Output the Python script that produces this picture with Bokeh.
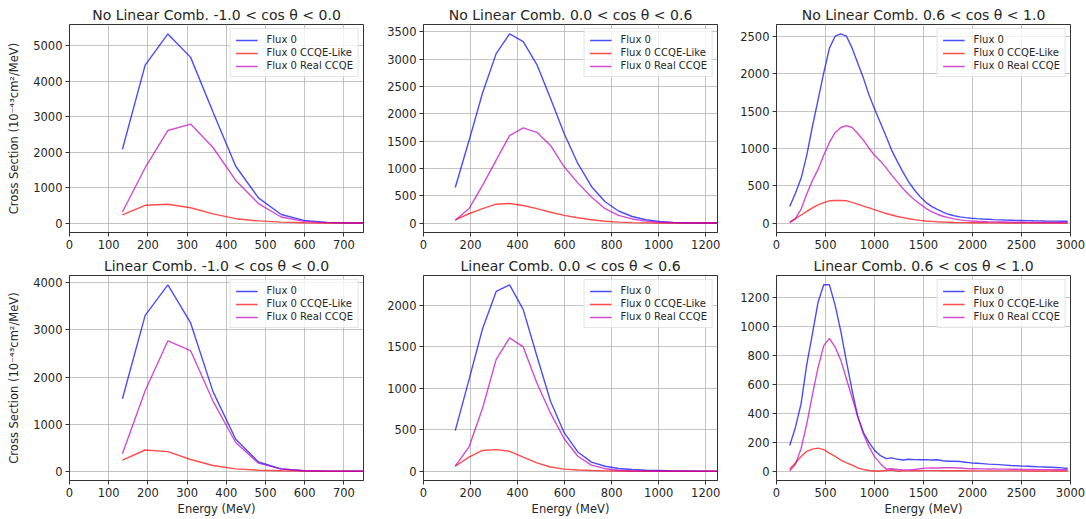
from bokeh.plotting import figure
from bokeh.models import Range1d, FixedTicker
from bokeh.layouts import column, row
from bokeh.embed import file_html
from bokeh.resources import INLINE

# ---------------- data ----------------
energy = [135, 193, 251, 309, 366, 424, 482, 540, 598, 656, 714, 772, 829, 887, 945,
          1003, 1061, 1119, 1177, 1235, 1292, 1350, 1408, 1466, 1524, 1582, 1640, 1698,
          1755, 1813, 1871, 1929, 1987, 2045, 2103, 2161, 2218, 2276, 2334, 2392, 2450,
          2508, 2566, 2624, 2681, 2739, 2797, 2855, 2913, 2971]

series_labels = ["Flux 0", "Flux 0 CCQE-Like", "Flux 0 Real CCQE"]

titles = [
    "No Linear Comb. -1.0 < cos \u03b8 < 0.0",
    "No Linear Comb. 0.0 < cos \u03b8 < 0.6",
    "No Linear Comb. 0.6 < cos \u03b8 < 1.0",
    "Linear Comb. -1.0 < cos \u03b8 < 0.0",
    "Linear Comb. 0.0 < cos \u03b8 < 0.6",
    "Linear Comb. 0.6 < cos \u03b8 < 1.0",
]

# panel 1: No Linear Comb. -1.0 < cos < 0.0
nolc1_flux = [2080, 4450, 5330, 4670, 3130, 1600, 710, 240, 75, 20, 5, 0, 0, 0, 0, 0]
nolc1_like = [230, 500, 530, 430, 260, 123, 60, 25, 10, 3, 0, 0, 0, 0, 0, 0]
nolc1_real = [310, 1560, 2610, 2790, 2130, 1200, 550, 170, 47, 12, 3, 0, 0, 0, 0, 0]

# panel 2: No Linear Comb. 0.0 < cos < 0.6
nolc2_flux = [650, 1500, 2380, 3100, 3460, 3320, 2900, 2280, 1640, 1090, 670, 390, 220, 120,
              60, 30, 12, 5, 2, 0, 0, 0, 0, 0]
nolc2_like = [60, 170, 265, 345, 357, 320, 265, 198, 140, 98, 60, 32, 16, 8, 4, 2, 0, 0, 0,
              0, 0, 0, 0, 0]
nolc2_real = [50, 260, 690, 1150, 1600, 1740, 1660, 1420, 1030, 735, 478, 263, 141, 75, 35,
              15, 5, 2, 0, 0, 0, 0, 0, 0]

# panel 3: No Linear Comb. 0.6 < cos < 1.0
nolc3_flux = [224, 400, 600, 910, 1290, 1650, 2010, 2340, 2500, 2530, 2500, 2340, 2140, 1940,
              1710, 1520, 1340, 1160, 970, 820, 680, 550, 445, 355, 280, 225, 185, 150, 120,
              100, 85, 76, 68, 62, 57, 53, 49, 46, 43, 41, 39, 37, 35, 33, 32, 30, 29, 28,
              27, 26]
nolc3_like = [18, 60, 110, 160, 205, 245, 275, 300, 305, 305, 300, 280, 255, 230, 205, 180,
              155, 130, 110, 90, 75, 60, 48, 38, 30, 25, 20, 16, 13, 10, 9, 8, 7, 6, 6, 5, 5,
              5, 4, 4, 4, 4, 4, 3, 3, 3, 3, 3, 3, 3]
nolc3_real = [9, 63, 190, 390, 570, 720, 910, 1080, 1210, 1280, 1306, 1280, 1200, 1110, 1000,
              905, 830, 740, 640, 550, 460, 380, 315, 255, 200, 157, 121, 94, 76, 58, 45, 36,
              31, 27, 24, 21, 19, 17, 16, 15, 14, 13, 12, 12, 11, 11, 10, 10, 10, 10]

# panel 4: Linear Comb. -1.0 < cos < 0.0
lc1_flux = [1540, 3310, 3960, 3150, 1690, 680, 195, 50, 10, 2, 0, 0, 0, 0, 0, 0]
lc1_like = [235, 450, 415, 248, 120, 49, 21, 8, 2, 0, 0, 0, 0, 0, 0, 0]
lc1_real = [370, 1710, 2770, 2560, 1490, 610, 170, 45, 10, 2, 0, 0, 0, 0, 0, 0]

# panel 5: Linear Comb. 0.0 < cos < 0.6
lc2_flux = [490, 1100, 1720, 2170, 2250, 1950, 1390, 845, 465, 232, 110, 60, 32, 20, 12, 8,
            4, 2, 0, 0, 0, 0, 0, 0]
lc2_like = [60, 170, 250, 260, 240, 170, 100, 50, 25, 15, 8, 4, 2, 0, 0, 0, 0, 0, 0, 0, 0,
            0, 0, 0]
lc2_real = [60, 290, 760, 1350, 1610, 1500, 1065, 700, 392, 180, 73, 30, 12, 6, 2, 0, 0, 0,
            0, 0, 0, 0, 0, 0]

# panel 6: Linear Comb. 0.6 < cos < 1.0
lc3_flux = [180, 305, 470, 740, 950, 1170, 1290, 1290, 1150, 970, 760, 560, 380, 270, 200,
            145, 110, 90, 95, 85, 80, 85, 83, 82, 83, 80, 82, 75, 72, 72, 70, 65, 60, 58, 55,
            52, 50, 48, 45, 42, 40, 38, 37, 35, 33, 32, 30, 28, 26, 22]
lc3_like = [18, 60, 105, 140, 155, 162, 152, 128, 105, 80, 60, 45, 25, 15, 8, 4, 4, 8, 10, 3,
            5, 5, 6, 6, 7, 7, 7, 6, 6, 6, 6, 6, 5, 5, 5, 5, 5, 5, 5, 5, 5, 5, 4, 4, 4, 4, 4,
            4, 4, 4]
lc3_real = [5, 50, 160, 330, 530, 720, 870, 920, 860, 770, 640, 510, 380, 260, 170, 100, 55,
            18, 20, 15, 12, 12, 15, 20, 24, 25, 25, 27, 27, 27, 25, 22, 20, 20, 19, 18, 18,
            17, 17, 16, 16, 15, 15, 15, 14, 14, 14, 13, 13, 13]

x_max = [750, 1250, 3000, 750, 1250, 3000]
x_ticks = [
    [0, 100, 200, 300, 400, 500, 600, 700],
    [0, 200, 400, 600, 800, 1000, 1200],
    [0, 500, 1000, 1500, 2000, 2500, 3000],
    [0, 100, 200, 300, 400, 500, 600, 700],
    [0, 200, 400, 600, 800, 1000, 1200],
    [0, 500, 1000, 1500, 2000, 2500, 3000],
]
y_ticks = [
    [0, 1000, 2000, 3000, 4000, 5000],
    [0, 500, 1000, 1500, 2000, 2500, 3000, 3500],
    [0, 500, 1000, 1500, 2000, 2500],
    [0, 1000, 2000, 3000, 4000],
    [0, 500, 1000, 1500, 2000],
    [0, 200, 400, 600, 800, 1000, 1200],
]
panels = [
    (nolc1_flux, nolc1_like, nolc1_real),
    (nolc2_flux, nolc2_like, nolc2_real),
    (nolc3_flux, nolc3_like, nolc3_real),
    (lc1_flux, lc1_like, lc1_real),
    (lc2_flux, lc2_like, lc2_real),
    (lc3_flux, lc3_like, lc3_real),
]

# ---------------- styling ----------------
FONT = "DejaVu Sans"
TXT = "#262626"
colors = ["#0000ff", "#ff0000", "#bf00bf"]

col_w = [384, 353, 348]
col_left = [69, 38, 38]
col_right = [21, 20, 15]
row_h = [253, 265]
row_top = [24, 21]
row_bottom = [21, 37]


def make_panel(i):
    r, c = divmod(i, 3)
    vals = panels[i]
    all_v = [v for s in vals for v in s]
    lo, hi = min(all_v), max(all_v)
    pad = 0.05 * (hi - lo)
    p = figure(width=col_w[c], height=row_h[r],
               x_range=Range1d(0, x_max[i]),
               y_range=Range1d(lo - pad, hi + pad),
               output_backend="svg", toolbar_location=None,
               min_border_left=col_left[c], min_border_right=col_right[c],
               min_border_top=row_top[r], min_border_bottom=row_bottom[r])
    p.title.text = titles[i]
    p.title.text_font = FONT
    p.title.text_font_size = "14px"
    p.title.text_font_style = "normal"
    p.title.text_color = TXT
    p.title.align = "center"
    p.title.standoff = 4
    p.title.offset = 0

    for s, lab, col in zip(vals, series_labels, colors):
        p.line(energy[:len(s)], s, line_color=col, line_alpha=0.7, line_width=1.4,
               legend_label=lab)

    p.xaxis.ticker = FixedTicker(ticks=x_ticks[i])
    p.yaxis.ticker = FixedTicker(ticks=y_ticks[i])
    for ax in (p.xaxis[0], p.yaxis[0]):
        ax.major_label_text_font = FONT
        ax.major_label_text_font_size = "11.5px"
        ax.major_label_text_color = TXT
        ax.major_tick_out = 4
        ax.major_tick_in = 0
        ax.minor_tick_line_color = None
        ax.major_tick_line_color = "#333333"
        ax.axis_line_color = "#333333"
        ax.major_label_standoff = 3
        ax.axis_label_text_font = FONT
        ax.axis_label_text_font_size = "11.5px"
        ax.axis_label_text_font_style = "normal"
        ax.axis_label_text_color = TXT
    p.xaxis.axis_label_standoff = 2
    p.yaxis.axis_label_standoff = 9
    if r == 1:
        p.xaxis.axis_label = "Energy (MeV)"
    if c == 0:
        p.yaxis.axis_label = "Cross Section (10\u207b\u2074\u00b3cm\u00b2/MeV)"

    p.outline_line_color = "#333333"
    p.outline_line_alpha = 1.0
    p.outline_line_width = 1
    p.grid.grid_line_color = "#b0b0b0"
    p.grid.grid_line_alpha = 0.75
    p.grid.grid_line_width = 1
    p.background_fill_color = "white"

    lg = p.legend[0]
    lg.location = "top_right"
    lg.label_text_font = FONT
    lg.label_text_font_size = "10px"
    lg.label_text_color = TXT
    lg.glyph_width = 22
    lg.glyph_height = 10
    lg.label_height = 10
    lg.label_standoff = 9
    lg.spacing = 2
    lg.padding = 5
    lg.margin = 4
    lg.border_line_color = "#cccccc"
    lg.border_line_width = 1
    lg.background_fill_alpha = 0.8
    return p


figs = [make_panel(i) for i in range(6)]
layout = column(row(*figs[:3]), row(*figs[3:]))

open("out.html", "w").write(file_html(layout, INLINE))
